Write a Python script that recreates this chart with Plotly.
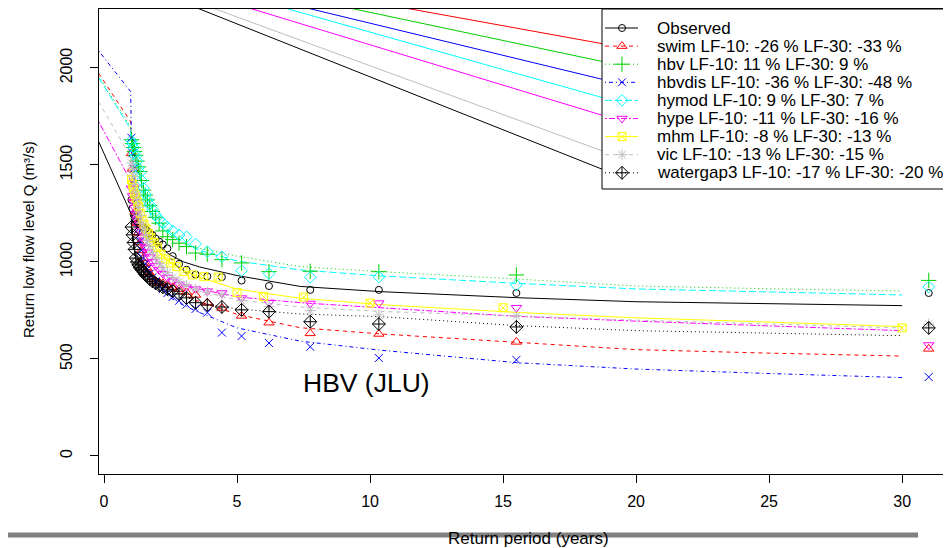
import plotly.graph_objects as go

FONT = "Liberation Sans, Arial, Helvetica, sans-serif"

# ---------------- data ----------------
names = ["Observed", "swim", "hbv", "hbvdis", "hymod", "hype", "mhm", "vic", "watergap3"]
lf10 = [None, -26, 11, -36, 9, -11, -8, -13, -17]
lf30 = [None, -33, 9, -48, 7, -16, -13, -15, -20]
colors = ["#000000", "#FF0000", "#00CD00", "#0000FF", "#00FFFF", "#FF00FF", "#FFFF00", "#BEBEBE", "#000000"]
symbols = ["circle-open", "triangle-up-open", "cross-thin-open", "x-thin-open", "diamond-open",
           "triangle-down-open", "square-x-open", "asterisk-open", "diamond-cross-open"]
dashes = ["solid", "4px,4px", "1px,3px", "1px,3px,4px,3px", "7px,3px", "2px,2px,6px,2px",
          "solid", "4px,4px", "1px,3px"]
msizes = [7, 9, 11, 8, 9, 9, 8, 9, 10]

# return periods of the empirical points (30 years, rank 1..30)
T_period = [31.0, 15.5, 10.33, 7.75, 6.2, 5.17, 4.43, 3.88, 3.44, 3.1, 2.82, 2.58, 2.38, 2.21, 2.07,
            1.94, 1.82, 1.72, 1.63, 1.55, 1.48, 1.41, 1.35, 1.29, 1.24, 1.19, 1.15, 1.11, 1.07, 1.03]
# mhm has 29 years
T_period_mhm = [30.0, 15.0, 10.0, 7.5, 6.0, 5.0, 4.29, 3.75, 3.33, 3.0, 2.73, 2.5, 2.31, 2.14, 2.0,
                1.88, 1.76, 1.67, 1.58, 1.5, 1.43, 1.36, 1.3, 1.25, 1.2, 1.15, 1.11, 1.07, 1.03]

observed_pts = [840, 840, 856, 856, 876, 904, 922, 926, 935, 960, 990, 1030, 1070, 1090, 1105,
                1120, 1139, 1150, 1160, 1170, 1178, 1185, 1190, 1196, 1200, 1210, 1225, 1245, 1275, 1320]
swim_pts = [552, 588, 629, 632, 687, 722, 763, 790, 830, 845, 860, 870, 880, 890, 895,
            900, 920, 940, 965, 990, 1020, 1060, 1100, 1150, 1200, 1260, 1330, 1400, 1480, 1560]
hbv_pts = [905, 933, 950, 952, 950, 995, 1012, 1040, 1046, 1079, 1097, 1115, 1130, 1160, 1200,
           1230, 1260, 1290, 1320, 1345, 1370, 1420, 1466, 1490, 1520, 1550, 1570, 1590, 1610, 1630]
hbvdis_pts = [407, 495, 505, 563, 582, 618, 636, 739, 758, 780, 800, 820, 840, 860, 880,
              900, 920, 940, 965, 990, 1020, 1060, 1110, 1170, 1240, 1320, 1400, 1480, 1560, 1640]
hymod_pts = [871, 881, 923, 921, 940, 955, 1027, 1053, 1093, 1130, 1139, 1160, 1180, 1200, 1220,
             1242, 1270, 1295, 1320, 1350, 1381, 1420, 1460, 1485, 1520, 1545, 1562, 1590, 1610, 1625]
hype_pts = [572, 764, 788, 786, 790, 814, 840, 850, 860, 870, 885, 900, 920, 940, 960,
            980, 1000, 1025, 1050, 1075, 1100, 1130, 1160, 1190, 1220, 1250, 1280, 1310, 1340, 1380]
mhm_pts = [660, 764, 788, 819, 821, 842, 922, 924, 933, 950, 976, 995, 1015, 1040, 1075,
           1100, 1125, 1145, 1170, 1195, 1220, 1250, 1285, 1310, 1330, 1350, 1380, 1400, 1425]
vic_pts = [680, 722, 727, 749, 770, 800, 830, 845, 860, 880, 900, 920, 945, 970, 995,
           1020, 1050, 1080, 1110, 1140, 1170, 1200, 1240, 1280, 1320, 1360, 1400, 1440, 1480, 1510]
watergap3_pts = [660, 665, 680, 692, 744, 753, 768, 778, 790, 815, 835, 850, 860, 870, 880,
                 890, 900, 912, 925, 935, 948, 960, 970, 985, 1000, 1020, 1065, 1100, 1140, 1180]

# fitted return-level curves
curve_T = [-0.2, 1.0, 1.03, 1.1, 1.2, 1.35, 1.5, 1.75, 2.0, 2.5, 3.0, 3.6, 5.0, 7.37, 10.4, 15.5, 20, 25, 30]
observed_curve = [1620, 1250, 1240, 1222, 1200, 1175, 1150, 1112, 1085, 1035, 1000, 974, 930, 874, 847, 816, 795, 785, 775]
swim_curve = [1972, 1723, 1560, 1400, 1250, 1120, 1020, 950, 905, 860, 830, 795, 730, 661, 629, 584, 548, 530, 515]
hbv_curve = [1959, 1696, 1640, 1580, 1520, 1440, 1360, 1270, 1205, 1130, 1090, 1070, 1030, 976, 950, 912, 876, 862, 850]
hbvdis_curve = [2088, 1878, 1630, 1480, 1320, 1130, 1010, 930, 880, 815, 775, 739, 660, 592, 545, 481, 448, 425, 404]
hymod_curve = [1950, 1685, 1630, 1570, 1510, 1430, 1370, 1290, 1230, 1150, 1100, 1060, 1005, 959, 928, 890, 861, 845, 830]
hype_curve = [1723, 1418, 1390, 1320, 1240, 1150, 1080, 1010, 965, 910, 880, 860, 820, 790, 765, 720, 695, 670, 646]
mhm_curve = [None, 1480, 1440, 1380, 1310, 1240, 1180, 1110, 1060, 995, 955, 920, 860, 813, 780, 740, 712, 690, 667]
vic_curve = [1825, 1541, 1500, 1420, 1330, 1230, 1150, 1060, 1000, 920, 875, 850, 805, 768, 745, 722, 700, 680, 660]
watergap3_curve = [None, 1200, 1180, 1110, 1030, 975, 945, 915, 890, 855, 825, 788, 758, 732, 718, 672, 646, 632, 620]

# straight stray segments running from above the plot to the legend keys
stray_series = ["swim", "hbv", "hbvdis", "hymod", "hype", "vic", "watergap3"]
stray_x = [0.0, 19.02]
stray_start = [2590, 2577, 2562, 2572, 2536, 2514, 2500]
stray_end = [2118, 2025, 1932, 1836, 1744, 1558, 1462]

x_ticks = [0, 5, 10, 15, 20, 25, 30]
y_ticks = [0, 500, 1000, 1500, 2000]

points = [observed_pts, swim_pts, hbv_pts, hbvdis_pts, hymod_pts, hype_pts, mhm_pts, vic_pts, watergap3_pts]
curves = [observed_curve, swim_curve, hbv_curve, hbvdis_curve, hymod_curve, hype_curve, mhm_curve, vic_curve, watergap3_curve]
legend_rows = list(range(len(names)))

# ---------------- geometry (page has an 8px body margin) ----------------
OFF = 8
W, H = 951 - OFF, 548 - OFF
L, R, T, B = 91, 1, 1, 74
pw, ph = W - L - R, H - T - B


def fx(p):  # reference pixel x -> paper
    return (p - OFF - L) / pw


def fy(p):  # reference pixel y -> paper
    return (H - B - (p - OFF)) / ph


# ---------------- figure ----------------
fig = go.Figure()

for s, a, b in zip(stray_series, stray_start, stray_end):
    k = names.index(s)
    fig.add_trace(go.Scatter(x=stray_x, y=[a, b], mode="lines", showlegend=False,
                             line=dict(color=colors[k], width=1), hoverinfo="skip"))

for k, nm in enumerate(names):
    fig.add_trace(go.Scatter(x=curve_T, y=curves[k], mode="lines", showlegend=False,
                             line=dict(color=colors[k], width=1, dash=dashes[k])))

for k, nm in enumerate(names):
    tx = T_period_mhm if nm == "mhm" else T_period
    fig.add_trace(go.Scatter(x=tx, y=points[k], mode="markers", showlegend=False,
                             marker=dict(symbol=symbols[k], size=msizes[k], color=colors[k],
                                         line=dict(color=colors[k], width=1))))

# manual legend on its own small axes
annotations = []
for k, nm in enumerate(names):
    row = legend_rows[k]
    fig.add_trace(go.Scatter(x=[605, 638], y=[row, row], xaxis="x2", yaxis="y2", mode="lines",
                             showlegend=False, hoverinfo="skip",
                             line=dict(color=colors[k], width=1, dash=dashes[k])))
    fig.add_trace(go.Scatter(x=[622], y=[row], xaxis="x2", yaxis="y2", mode="markers",
                             showlegend=False, hoverinfo="skip",
                             marker=dict(symbol=symbols[k], size=msizes[k], color=colors[k],
                                         line=dict(color=colors[k], width=1))))
    label = nm if lf10[k] is None else f"{nm} LF-10: {lf10[k]} % LF-30: {lf30[k]} %"
    annotations.append(dict(text=label, xref="x2", yref="y2", x=655, y=row, xanchor="left",
                            yanchor="middle", showarrow=False, font=dict(size=17)))

annotations += [
    dict(text="Return period (years)", xref="paper", yref="paper", x=fx(528), y=fy(538),
         showarrow=False, font=dict(size=17), xanchor="center", yanchor="middle"),
    dict(text="Return low flow level Q (m³/s)", xref="paper", yref="paper", x=fx(28), y=fy(240),
         showarrow=False, textangle=-90, font=dict(size=15), xanchor="center", yanchor="middle"),
    dict(text="HBV (JLU)", xref="x", yref="y", x=9.85, y=376, showarrow=False,
         font=dict(size=26.5), xanchor="center", yanchor="middle"),
]

row_px0, row_dpx = 28, 18.1
fig.update_layout(
    width=W, height=H,
    margin=dict(l=L, r=R, t=T, b=B, pad=0),
    paper_bgcolor="white", plot_bgcolor="white",
    font=dict(family=FONT, size=16, color="black"),
    showlegend=False,
    xaxis=dict(range=[-0.19, 31.8], tickmode="array", tickvals=x_ticks,
               ticks="outside", ticklen=8, tickcolor="black", showgrid=False, zeroline=False,
               showline=True, linecolor="black", linewidth=1, mirror=True,
               tickfont=dict(size=16), ticklabelstandoff=5),
    yaxis=dict(range=[-93, 2304], tickmode="array", tickvals=y_ticks, tickangle=-90,
               ticks="outside", ticklen=8, tickcolor="black", showgrid=False, zeroline=False,
               showline=True, linecolor="black", linewidth=1, mirror=True,
               tickfont=dict(size=16), ticklabelstandoff=12),
    xaxis2=dict(domain=[fx(602), fx(949)], range=[602, 949], anchor="y2",
                visible=False, fixedrange=True),
    yaxis2=dict(domain=[fy(189), fy(9)], anchor="x2",
                range=[(189 - row_px0) / row_dpx, (9 - row_px0) / row_dpx],
                visible=False, fixedrange=True),
    shapes=[
        dict(type="line", xref="paper", yref="paper", x0=fx(0), x1=fx(918),
             y0=fy(535), y1=fy(535), line=dict(color="#808080", width=5), layer="below"),
        dict(type="rect", xref="x2 domain", yref="y2 domain", x0=0, x1=1, y0=0, y1=1,
             line=dict(color="black", width=1)),
    ],
    annotations=annotations,
)

fig.write_html("out.html")
